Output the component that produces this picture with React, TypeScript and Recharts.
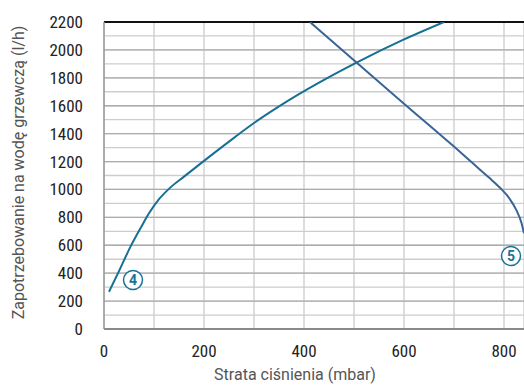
import React from "react";
import {
  LineChart,
  Line,
  XAxis,
  YAxis,
  CartesianGrid,
  ReferenceLine,
  ReferenceDot,
} from "recharts";

// curve 4 (rising) and curve 5 (falling): [mbar, l/h]
const curve4 = [
  { x: 10, y: 267 },
  { x: 30, y: 415 },
  { x: 53, y: 590 },
  { x: 75, y: 735 },
  { x: 90, y: 829 },
  { x: 110, y: 930 },
  { x: 133, y: 1015 },
  { x: 160, y: 1092 },
  { x: 200, y: 1205 },
  { x: 250, y: 1343 },
  { x: 300, y: 1476 },
  { x: 370, y: 1640 },
  { x: 450, y: 1805 },
  { x: 505, y: 1909 },
  { x: 600, y: 2075 },
  { x: 680, y: 2200 },
];

const curve5 = [
  { x: 412, y: 2200 },
  { x: 505, y: 1910 },
  { x: 600, y: 1615 },
  { x: 700, y: 1307 },
  { x: 740, y: 1180 },
  { x: 770, y: 1085 },
  { x: 792, y: 1012 },
  { x: 810, y: 940 },
  { x: 825, y: 850 },
  { x: 835, y: 760 },
  { x: 840, y: 686 },
];

const markers = [
  { id: "4", x: 58, y: 351 },
  { id: "5", x: 814, y: 523 },
];

const xTicks = [0, 100, 200, 300, 400, 500, 600, 700, 800];
const yTicks = [
  0, 100, 200, 300, 400, 500, 600, 700, 800, 900, 1000, 1100, 1200, 1300,
  1400, 1500, 1600, 1700, 1800, 1900, 2000, 2100, 2200,
];
const yMajor = [200, 400, 600, 800, 1000, 1200, 1400, 1600, 1800, 2000];

const font = "'Liberation Sans Narrow', 'Roboto Condensed', Roboto, sans-serif";

export default function App() {
  return (
    <div style={{ position: "absolute", left: 0, top: 0 }}>
      <LineChart
        width={524}
        height={385}
        margin={{ top: 22, right: 0, bottom: 0, left: 0 }}
        style={{ fontFamily: font }}
      >
        <CartesianGrid stroke="#cdcdcd" strokeWidth={1.3} />
        <XAxis
          type="number"
          dataKey="x"
          domain={[0, 840]}
          allowDataOverflow
          ticks={xTicks}
          tickFormatter={(v) => (v % 200 === 0 ? String(v) : "")}
          height={56}
          tickLine={false}
          tickMargin={10}
          axisLine={{ stroke: "#8a8a8a", strokeWidth: 2 }}
          tick={{ fill: "#222", fontSize: 17 }}
          label={{
            value: "Strata ciśnienia (mbar)",
            position: "insideBottom",
            offset: 5,
            dx: -19,
            fill: "#555",
            fontSize: 16,
            fontFamily: "Roboto, sans-serif",
          }}
        />
        <YAxis
          type="number"
          dataKey="y"
          domain={[0, 2200]}
          allowDataOverflow
          ticks={yTicks}
          interval={0}
          tickFormatter={(v) => (v % 200 === 0 ? String(v) : "")}
          width={104}
          tickLine={false}
          tickMargin={15}
          axisLine={{ stroke: "#9a9a9a", strokeWidth: 1.5 }}
          tick={{ fill: "#222", fontSize: 17 }}
          label={{
            value: "Zapotrzebowanie na wodę grzewczą (l/h)",
            angle: -90,
            position: "insideLeft",
            offset: 18,
            dy: -3,
            fill: "#555",
            fontSize: 16,
            fontFamily: "Roboto, sans-serif",
            style: { textAnchor: "middle" },
          }}
        />
        {yMajor.map((v) => (
          <ReferenceLine key={v} y={v} stroke="#acacac" strokeWidth={1.3} />
        ))}
        <ReferenceLine y={2200} stroke="#111" strokeWidth={2} />
        <Line
          data={curve4}
          dataKey="y"
          type="monotone"
          stroke="#176f93"
          strokeWidth={2}
          dot={false}
          isAnimationActive={false}
        />
        <Line
          data={curve5}
          dataKey="y"
          type="monotone"
          stroke="#3a6497"
          strokeWidth={2}
          dot={false}
          isAnimationActive={false}
        />
        {markers.map((m) => (
          <ReferenceDot
            key={m.id}
            x={m.x}
            y={m.y}
            r={9.5}
            fill="#fff"
            stroke="#1a7296"
            strokeWidth={1.5}
            label={{
              value: m.id,
              position: "center",
              fill: "#1a7296",
              fontSize: 14,
              fontWeight: "bold",
              fontFamily: "Roboto, sans-serif",
            }}
          />
        ))}
      </LineChart>
    </div>
  );
}
